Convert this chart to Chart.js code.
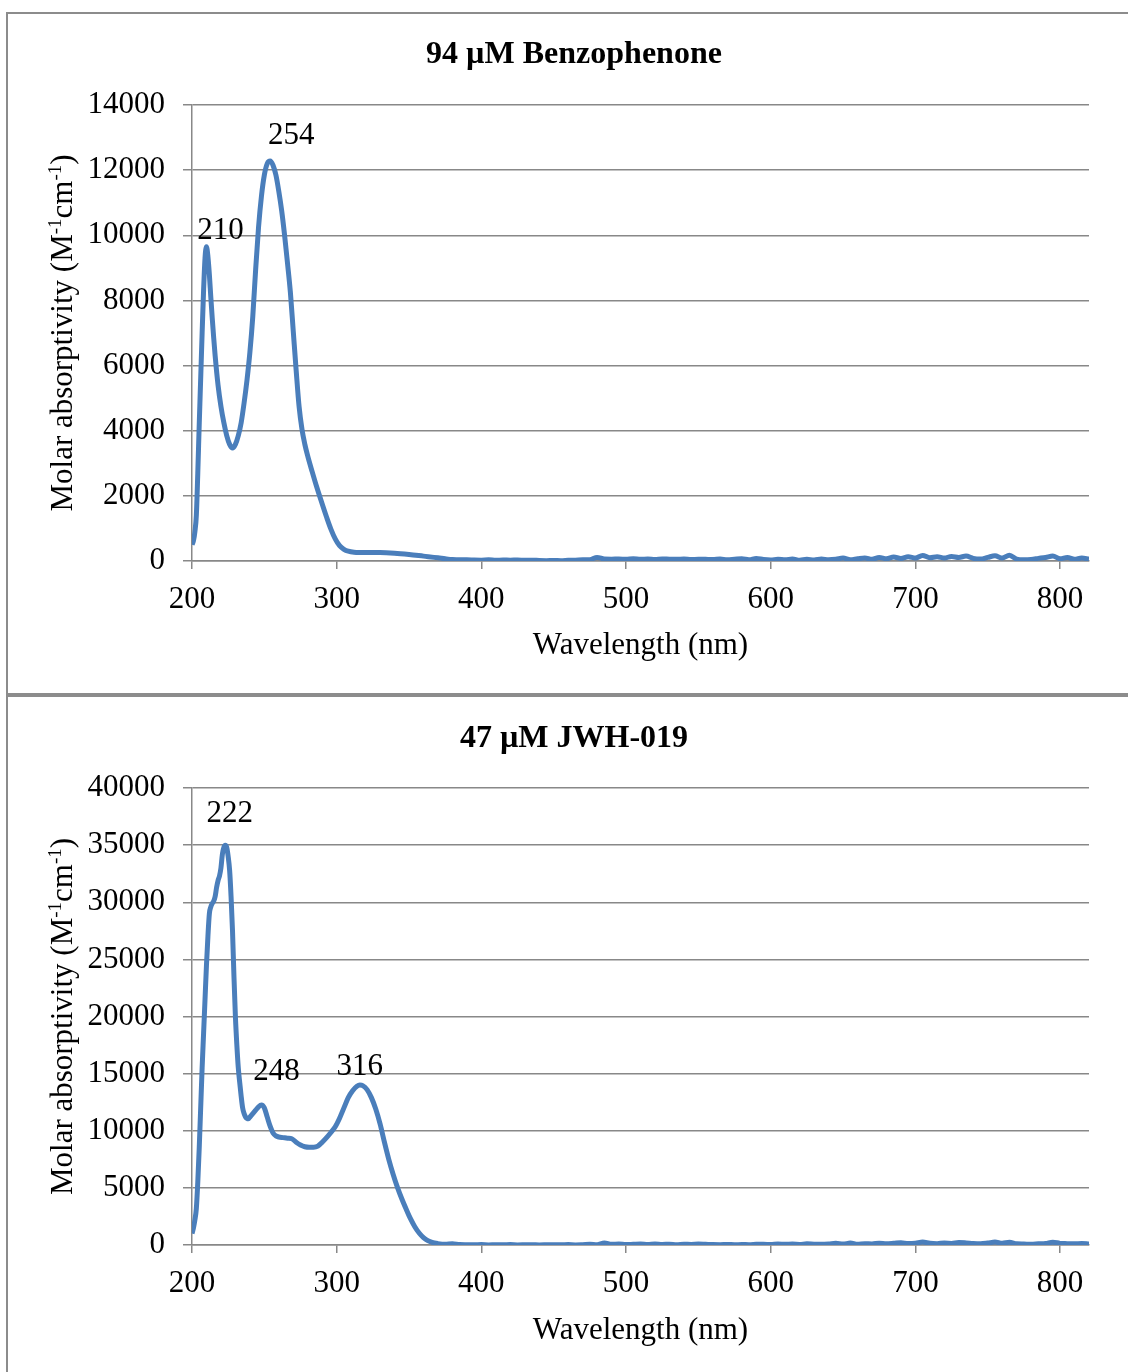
<!DOCTYPE html>
<html>
<head>
<meta charset="utf-8">
<script src="https://cdn.jsdelivr.net/npm/chart.js@4.4.1/dist/chart.umd.min.js"></script>
<style>
  body { margin: 0; width: 1128px; height: 1372px; overflow: hidden; background: #fff; position: relative; }
  .box { position: absolute; left: 6px; width: 1160px; border: 2px solid #8c8c8c; box-sizing: border-box; }
  #box1 { top: 12px; height: 683px; }
  #box2 { top: 695px; height: 720px; }
  canvas { position: absolute; left: 0; }
  #c1 { top: 0; }
  #c2 { top: 694px; }
</style>
</head>
<body>
<div class="box" id="box1"></div>
<div class="box" id="box2"></div>
<canvas id="c1" width="1148" height="694"></canvas>
<canvas id="c2" width="1148" height="678"></canvas>
<script>
// benzophenone spectrum (nm, M-1 cm-1)
const wl1 = [200, 201, 202, 203, 204, 205, 206, 207, 208, 209, 210, 211, 212, 213, 214, 215, 216, 218, 220, 222, 224, 226, 228, 230,
  232, 234, 236, 238, 240, 242, 244, 246, 248, 250, 252, 254, 256, 258, 260, 262, 264, 266, 268, 270, 272, 274, 276, 278, 280,
  283, 286, 290, 293, 296, 299, 302, 305, 308, 312, 320, 330, 340, 350, 360, 370, 375,
  380, 385, 390, 395, 400, 405, 410, 415, 420, 425, 430, 435, 440, 445, 450, 455, 460, 465, 470, 475, 480, 485, 490, 495,
  500, 505, 510, 515, 520, 525, 530, 535, 540, 545, 550, 555, 560, 565, 570, 575, 580, 585, 590, 595,
  600, 605, 610, 615, 620, 625, 630, 635, 640, 645, 650, 655, 660, 665, 670, 675, 680, 685, 690, 695,
  700, 705, 710, 715, 720, 725, 730, 735, 740, 745, 750, 755, 760, 765, 770, 775, 780, 785, 790, 795,
  800, 805, 810, 815, 820];
const ab1 = [500, 620, 900, 1400, 2700, 4200, 5600, 7000, 8300, 9300, 9650, 9350, 8800, 8100, 7450, 6850, 6300, 5400, 4750, 4250, 3850, 3580, 3470, 3580,
  3850, 4250, 4850, 5550, 6400, 7500, 8950, 10250, 11200, 11850, 12200, 12280, 12150, 11850, 11350, 10750, 10000, 9150, 8250, 7050, 5850, 4750, 4050, 3580, 3220,
  2750, 2300, 1750, 1350, 980, 680, 470, 360, 300, 270, 260, 260, 240, 200, 150, 100, 70,
  45, 35, 40, 30, 25, 35, 20, 30, 25, 30, 20, 25, 15, 10, 15, 10, 20, 25, 35, 40, 110, 60, 55, 65,
  50, 70, 55, 60, 45, 65, 55, 50, 60, 45, 55, 50, 45, 60, 40, 55, 70, 40, 80, 45,
  30, 55, 35, 60, 25, 50, 30, 60, 40, 55, 90, 40, 70, 95, 50, 110, 70, 120, 80, 130,
  90, 170, 100, 130, 90, 140, 110, 150, 80, 60, 110, 160, 90, 180, 60, 40, 50, 80, 110, 150,
  70, 110, 50, 90, 60];
const peakWl1 = [210, 254];
const peakAb1 = [9650, 12300];

// JWH-019 spectrum
const wl2 = [200, 201, 202, 203, 204, 205, 206, 207, 208, 209, 210, 211, 212, 213, 214, 215, 216, 217, 218, 219, 220, 221, 222, 223, 224,
  225, 226, 227, 228, 229, 230, 231, 232, 233, 234, 235, 236, 237, 238, 239, 240, 242, 244, 246, 248, 250, 252, 254, 256, 258, 260,
  263, 266, 269, 272, 275, 278, 281, 284, 287, 290, 293, 296, 299, 302, 305, 308, 311, 314, 316, 318, 321, 324, 327, 330, 333, 336, 339,
  342, 345, 348, 351, 354, 357, 360, 363, 366, 370, 375, 380, 385,
  390, 395, 400, 405, 410, 415, 420, 425, 430, 435, 440, 445, 450, 455, 460, 465, 470, 475, 480, 485, 490, 495,
  500, 505, 510, 515, 520, 525, 530, 535, 540, 545, 550, 555, 560, 565, 570, 575, 580, 585, 590, 595,
  600, 605, 610, 615, 620, 625, 630, 635, 640, 645, 650, 655, 660, 665, 670, 675, 680, 685, 690, 695,
  700, 705, 710, 715, 720, 725, 730, 735, 740, 745, 750, 755, 760, 765, 770, 775, 780, 785, 790, 795,
  800, 805, 810, 815, 820];
const ab2 = [1000, 1500, 2200, 3200, 5500, 8500, 12000, 15500, 18500, 21500, 24500, 27000, 29000, 29600, 29900, 30100, 30500, 31300, 31900, 32300, 33000, 34200, 34800, 35000, 34800,
  34000, 32800, 30500, 27500, 23500, 20000, 17500, 15500, 14200, 13000, 12000, 11500, 11200, 11050, 11050, 11200, 11500, 11800, 12100, 12250, 12000, 11200, 10400, 9800, 9550, 9450,
  9400, 9350, 9300, 9000, 8750, 8600, 8550, 8550, 8650, 9000, 9400, 9850, 10350, 11100, 12000, 12900, 13500, 13900, 14000, 13950, 13600, 12900, 11900, 10600, 9000, 7500, 6200,
  5050, 4050, 3150, 2300, 1600, 1050, 650, 380, 220, 120, 60, 120, 40,
  30, 20, 40, 10, 30, 20, 40, 10, 20, 30, 10, 20, 30, 20, 40, 10, 30, 60, 20, 180, 60, 80,
  40, 60, 80, 40, 90, 50, 60, 30, 70, 50, 80, 60, 40, 30, 50, 20, 40, 30, 60, 70,
  40, 90, 60, 80, 50, 100, 70, 60, 90, 150, 80, 170, 60, 120, 90, 160, 110, 150, 200, 130,
  160, 260, 150, 120, 170, 140, 210, 180, 130, 110, 170, 260, 150, 240, 100, 80, 60, 100, 130, 250,
  140, 120, 100, 140, 80];
const peakWl2 = [222, 248, 316];
const peakAb2 = [35000, 12250, 14000];

const xTicks = [200, 300, 400, 500, 600, 700, 800];
const yTicks1 = [0, 2000, 4000, 6000, 8000, 10000, 12000, 14000];
const yTicks2 = [0, 5000, 10000, 15000, 20000, 25000, 30000, 35000, 40000];

const SERIF = '"Liberation Serif", "Times New Roman", serif';
const BLUE = '#4a7ebb';
const GRID = '#888888';

const peakLabels = {
  id: 'peakLabels',
  afterDatasetsDraw(chart, args, opts) {
    const { ctx, scales: { x, y } } = chart;
    ctx.save();
    ctx.font = '31px ' + SERIF;
    ctx.fillStyle = '#000';
    ctx.textAlign = 'center';
    ctx.textBaseline = 'middle';
    opts.wl.forEach((w, i) => {
      const [dx, dy] = opts.nudge[i];
      ctx.fillText(String(w), x.getPixelForValue(w) + dx, y.getPixelForValue(opts.ab[i]) + dy);
    });
    ctx.restore();
  }
};

// y title with superscripts
const yTitle = {
  id: 'yTitle',
  afterDraw(chart, args, opts) {
    const { ctx, chartArea } = chart;
    const parts = [['Molar absorptivity (M', false], ['-1', true], ['cm', false], ['-1', true], [')', false]];
    const big = '31px ' + SERIF, small = '19px ' + SERIF;
    ctx.save();
    ctx.translate(opts.x, (chartArea.top + chartArea.bottom) / 2);
    ctx.rotate(-Math.PI / 2);
    ctx.fillStyle = '#000';
    ctx.textBaseline = 'alphabetic';
    let total = 0;
    parts.forEach(([t, sup]) => { ctx.font = sup ? small : big; total += ctx.measureText(t).width; });
    let pos = -total / 2;
    parts.forEach(([t, sup]) => {
      ctx.font = sup ? small : big;
      ctx.fillText(t, pos, sup ? -1 : 10);
      pos += ctx.measureText(t).width;
    });
    ctx.restore();
  }
};

function makeChart(id, title, wl, ab, yTicks, peakWl, peakAb, nudge, lc) {
  const font = { family: SERIF, size: 31 };
  return new Chart(document.getElementById(id), {
    type: 'line',
    data: {
      datasets: [{
        data: wl.map((x, i) => ({ x: x, y: ab[i] })),
        borderColor: BLUE,
        borderWidth: 5,
        pointRadius: 0,
        cubicInterpolationMode: 'monotone',
        fill: false
      }]
    },
    options: {
      responsive: false,
      animation: false,
      events: [],
      layout: { padding: { left: 59, right: 59, top: 0, bottom: 0 } },
      plugins: {
        legend: { display: false },
        tooltip: { enabled: false },
        title: {
          display: true, text: title, color: '#000',
          font: { family: SERIF, size: 32, weight: 'bold' },
          padding: { top: lc.titleTop, bottom: lc.titleBottom }
        },
        peakLabels: { wl: peakWl, ab: peakAb, nudge: nudge },
        yTitle: { x: 62 }
      },
      scales: {
        x: {
          type: 'linear', min: 200, max: 820,
          afterBuildTicks: s => { s.ticks = xTicks.map(v => ({ value: v })); },
          afterFit: s => { s.height = lc.xHeight; },
          grid: { drawOnChartArea: false, color: GRID, lineWidth: 1.5, tickLength: 8 },
          border: { color: GRID, width: 1.5 },
          ticks: { font: font, color: '#000', padding: 12, maxRotation: 0, autoSkip: false, callback: v => String(v) },
          title: { display: true, text: 'Wavelength (nm)', font: font, color: '#000', padding: { top: 0, bottom: lc.xTitleBottom } }
        },
        y: {
          min: 0, max: yTicks[yTicks.length - 1],
          afterBuildTicks: s => { s.ticks = yTicks.map(v => ({ value: v })); },
          afterFit: s => { s.width = 133; },
          grid: { color: GRID, lineWidth: 1.5, tickLength: 9 },
          border: { color: GRID, width: 1.5 },
          ticks: { font: font, color: '#000', padding: 18, callback: v => String(v) }
        }
      }
    },
    plugins: [peakLabels, yTitle]
  });
}

makeChart('c1', '94 \u00b5M Benzophenone', wl1, ab1, yTicks1, peakWl1, peakAb1,
  [[14, -16], [21, -25]],
  { titleTop: 36, titleBottom: 30.6, xHeight: 133, xTitleBottom: 30 });
makeChart('c2', '47 \u00b5M JWH-019', wl2, ab2, yTicks2, peakWl2, peakAb2,
  [[6, -31], [15, -33], [0, -18]],
  { titleTop: 26, titleBottom: 29.6, xHeight: 127, xTitleBottom: 23 });
</script>
</body>
</html>
